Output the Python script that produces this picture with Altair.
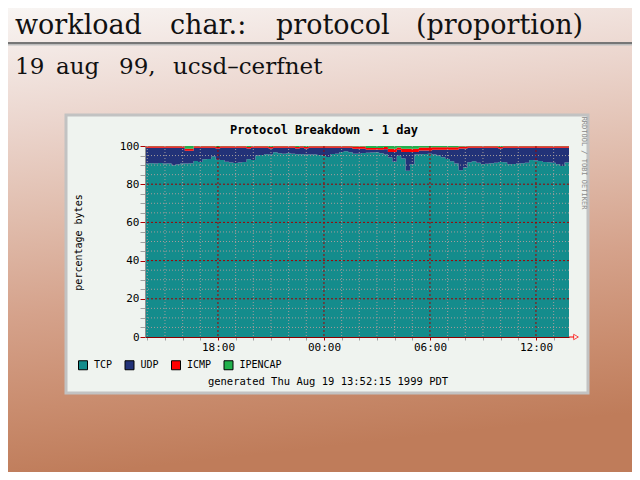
import altair as alt
import pandas as pd

# ---------------- data ----------------
protocols = ["TCP", "UDP", "ICMP", "IPENCAP"]
proto_colors = ["#148c8c", "#223278", "#ff0000", "#22b14c"]

# sample times: hours since 00:00 on 18 Aug 1999 (15 minute steps, 13:52 -> 13:52)
hours = [13.87 + 0.25 * i for i in range(97)]

tcp = [90.9, 91.0, 90.8, 91.1, 90.9, 90.9, 89.9, 90.3, 90.9, 90.9,
       91.0, 92.1, 91.6, 93.0, 93.2, 94.5, 92.8, 92.7, 91.8, 91.4,
       91.1, 91.3, 91.6, 93.0, 92.7, 95.0, 95.3, 95.7, 95.6, 96.7,
       96.2, 95.9, 96.2, 96.0, 95.7, 95.7, 95.6, 95.5, 95.5, 95.3,
       94.8, 94.3, 95.8, 95.9, 96.8, 97.2, 96.7, 96.0, 95.9, 96.3,
       96.5, 96.6, 96.7, 96.2, 95.6, 94.0, 91.8, 94.9, 93.4, 87.0,
       90.5, 95.5, 95.7, 95.8, 95.9, 95.6, 95.0, 94.1, 93.2, 92.0,
       90.9, 87.3, 88.8, 91.5, 92.0, 91.2, 90.6, 90.7, 91.0, 91.2,
       91.6, 91.5, 90.5, 90.6, 90.8, 91.0, 91.2, 92.7, 92.4, 92.2,
       91.6, 91.5, 91.2, 90.5, 89.5, 91.4, 91.4]

udp = [8.2, 8.1, 8.3, 8.0, 8.2, 8.2, 9.2, 8.8, 8.2, 6.6,
       6.5, 7.0, 7.5, 6.1, 5.9, 4.6, 5.9, 6.4, 7.3, 7.7,
       8.0, 7.8, 7.5, 5.7, 6.4, 4.1, 3.8, 3.4, 3.1, 2.4,
       2.9, 3.2, 2.9, 3.1, 3.0, 3.4, 3.1, 3.6, 3.6, 3.8,
       4.3, 4.8, 3.3, 3.2, 2.3, 1.9, 2.4, 2.5, 2.6, 2.2,
       1.5, 1.4, 1.3, 1.8, 2.7, 2.8, 5.0, 3.1, 3.4, 9.8,
       6.3, 1.3, 1.9, 1.8, 1.7, 2.5, 3.1, 4.0, 4.9, 6.1,
       7.2, 11.4, 9.9, 7.6, 7.1, 7.9, 8.5, 8.4, 8.1, 7.9,
       7.1, 7.6, 8.6, 8.5, 8.3, 8.1, 7.9, 6.4, 6.7, 6.9,
       7.5, 7.6, 7.9, 8.6, 9.6, 7.7, 7.7]

icmp = [0.8, 0.8, 0.8, 0.8, 0.8, 0.8, 0.8, 0.8, 0.8, 1.0,
        1.0, 0.8, 0.8, 0.8, 0.8, 0.8, 0.8, 0.8, 0.8, 0.8,
        0.8, 0.8, 0.8, 0.8, 0.8, 0.8, 0.8, 0.8, 0.8, 0.8,
        0.8, 0.8, 0.8, 0.8, 0.8, 0.8, 0.8, 0.8, 0.8, 0.8,
        0.8, 0.8, 0.8, 0.8, 0.8, 0.8, 0.8, 1.2, 1.2, 1.2,
        1.0, 1.0, 1.0, 1.0, 1.2, 1.7, 1.7, 1.2, 1.8, 1.8,
        1.8, 1.8, 1.6, 1.6, 1.6, 1.3, 1.3, 1.3, 1.3, 1.3,
        1.3, 1.0, 1.0, 0.8, 0.8, 0.8, 0.8, 0.8, 0.8, 0.8,
        0.8, 0.8, 0.8, 0.8, 0.8, 0.8, 0.8, 0.8, 0.8, 0.8,
        0.8, 0.8, 0.8, 0.8, 0.8, 0.8, 0.8]

ipencap = [0.1, 0.1, 0.1, 0.1, 0.1, 0.1, 0.1, 0.1, 0.1, 1.5,
           1.5, 0.1, 0.1, 0.1, 0.1, 0.1, 0.5, 0.1, 0.1, 0.1,
           0.1, 0.1, 0.1, 0.5, 0.1, 0.1, 0.1, 0.1, 0.5, 0.1,
           0.1, 0.1, 0.1, 0.1, 0.5, 0.1, 0.5, 0.1, 0.1, 0.1,
           0.1, 0.1, 0.1, 0.1, 0.1, 0.1, 0.1, 0.3, 0.3, 0.3,
           1.0, 1.0, 1.0, 1.0, 0.5, 1.5, 1.5, 0.8, 1.4, 1.4,
           1.4, 1.4, 0.8, 0.8, 0.8, 0.6, 0.6, 0.6, 0.6, 0.6,
           0.6, 0.3, 0.3, 0.1, 0.1, 0.1, 0.1, 0.1, 0.1, 0.1,
           0.5, 0.1, 0.1, 0.1, 0.1, 0.1, 0.1, 0.1, 0.1, 0.1,
           0.1, 0.1, 0.1, 0.1, 0.1, 0.1, 0.1]

x_ticks = list(range(14, 38))          # one tick per hour
y_ticks = list(range(0, 101, 5))       # one tick per 5 %
x_major = [18, 24, 30, 36]
x_minor = [h for h in x_ticks if h not in x_major]
y_major = [20, 40, 60, 80]
y_minor = [v for v in y_ticks if v % 20 != 0 and v < 100]

slide_title_words = ["workload", "char.:", "protocol", "(proportion)"]
slide_sub_words = ["19", "aug", "99,", "ucsd\u2013cerfnet"]
graph_title = "Protocol Breakdown - 1 day"
y_title = "percentage bytes"
generated = "generated Thu Aug 19 13:52:15 1999 PDT"
watermark = "RRDTOOL / TOBI OETIKER"

# ---------------- long table ----------------
rows = []
for i, h in enumerate(hours):
    for k, (p, series) in enumerate(zip(protocols, [tcp, udp, icmp, ipencap])):
        rows.append({"h": h, "proto": p, "k": k, "v": series[i]})
df = pd.DataFrame(rows)

W, H = 424, 191
XDOM = [13.87, 37.87]
xs = alt.Scale(domain=XDOM, nice=False, zero=False)
ys = alt.Scale(domain=[0, 100], nice=False)
MONO = "DejaVu Sans Mono"
SERIF = "DejaVu Serif"

x_axis = alt.Axis(
    values=x_ticks, title=None, grid=False, zindex=2,
    labelExpr="datum.value % 6 === 0 ? ((datum.value % 24 < 10 ? '0' : '') + (datum.value % 24) + ':00') : ''",
    labelFont=MONO, labelFontSize=11, labelColor="#000000", labelPadding=1,
    tickSize=3, tickColor=alt.condition("datum.value % 6 === 0", alt.value("#b00000"), alt.value("#a0a0a0")),
    domainColor="#8b0000", labelFlush=False, labelOverlap=False)
y_axis = alt.Axis(
    values=y_ticks, title=y_title, grid=False, zindex=2,
    labelExpr="datum.value % 20 === 0 ? datum.label : ''",
    labelFont=MONO, labelFontSize=11, labelColor="#000000", labelPadding=1,
    tickSize=5, tickColor=alt.condition("datum.value % 20 === 0", alt.value("#b00000"), alt.value("#a0a0a0")),
    domainColor="#909090", labelOverlap=False,
    titleFont=MONO, titleFontSize=10, titleFontWeight="normal", titleColor="#000000",
    titleX=-62, titleY=96, titleAngle=270)


def one(text=""):
    return pd.DataFrame({"t": [text]})


# background gradient (whole slide)
bg = alt.Chart(one()).mark_rect(
    fill=alt.Gradient(
        gradient="linear", x1=0, x2=0.15, y1=0, y2=1,
        stops=[
            alt.GradientStop(offset=0.0, color="#f8f5f3"),
            alt.GradientStop(offset=0.1, color="#f3e8e4"),
            alt.GradientStop(offset=0.25, color="#ebd5cd"),
            alt.GradientStop(offset=0.45, color="#e0bcac"),
            alt.GradientStop(offset=0.65, color="#d5a28b"),
            alt.GradientStop(offset=0.85, color="#c98c6e"),
            alt.GradientStop(offset=1.0, color="#bf7c5a"),
        ],
    )
).encode(x=alt.value(-137), x2=alt.value(487), y=alt.value(-138), y2=alt.value(326))

rule_dark = alt.Chart(one()).mark_rect(color="#767676").encode(
    x=alt.value(-137), x2=alt.value(487), y=alt.value(-104), y2=alt.value(-102))
rule_light = alt.Chart(one()).mark_rect(color="#bdbdbd").encode(
    x=alt.value(-137), x2=alt.value(487), y=alt.value(-102), y2=alt.value(-100.5))

title_x = [-130, 25, 131, 271]
title_layers = [
    alt.Chart(one(w)).mark_text(font=SERIF, fontSize=27, align="left", baseline="alphabetic",
                                color="#111111").encode(text="t:N", x=alt.value(x), y=alt.value(-112))
    for w, x in zip(slide_title_words, title_x)
]
sub_x = [-130, -89, -26, 28]
sub_layers = [
    alt.Chart(one(w)).mark_text(font=SERIF, fontSize=23, align="left", baseline="alphabetic",
                                color="#111111").encode(text="t:N", x=alt.value(x), y=alt.value(-72))
    for w, x in zip(slide_sub_words, sub_x)
]

panel = alt.Chart(one()).mark_rect(fill="#eff3ef", stroke="#c2c2c2", strokeWidth=3).encode(
    x=alt.value(-79), x2=alt.value(443), y=alt.value(-31), y2=alt.value(247))

gtitle = alt.Chart(one(graph_title)).mark_text(font=MONO, fontSize=12, fontWeight="bold",
                                               color="#000000").encode(
    text="t:N", x=alt.value(179), y=alt.value(-16))

gen = alt.Chart(one(generated)).mark_text(font=MONO, fontSize=10.5, color="#000000").encode(
    text="t:N", x=alt.value(183), y=alt.value(236))

wm = alt.Chart(one(watermark)).mark_text(font=MONO, fontSize=7, angle=90, color="#8a8a8a").encode(
    text="t:N", x=alt.value(439), y=alt.value(17))

area = alt.Chart(df).mark_area(interpolate="step-after", opacity=1).encode(
    x=alt.X("h:Q", scale=xs, axis=x_axis),
    y=alt.Y("v:Q", stack="zero", scale=ys, axis=y_axis),
    color=alt.Color("proto:N", scale=alt.Scale(domain=protocols, range=proto_colors),
                    legend=alt.Legend(orient="none", legendX=-67, legendY=214, direction="horizontal",
                                      title=None, symbolType="square", symbolSize=81,
                                      symbolStrokeColor="#000000", symbolStrokeWidth=1, symbolOpacity=1,
                                      labelFont=MONO, labelFontSize=10, labelColor="#000000",
                                      labelOffset=6, columnPadding=9.5, padding=0, zindex=2)),
    order=alt.Order("k:Q"),
)

vminor = alt.Chart(pd.DataFrame({"h": x_minor})).mark_rule(
    color="#a49c9c", strokeDash=[1, 2], strokeWidth=1).encode(x=alt.X("h:Q", scale=xs, axis=x_axis))
hminor = alt.Chart(pd.DataFrame({"v": y_minor})).mark_rule(
    color="#a49c9c", strokeDash=[1, 2], strokeWidth=1).encode(y=alt.Y("v:Q", scale=ys, axis=y_axis))
vmajor = alt.Chart(pd.DataFrame({"h": x_major})).mark_rule(
    color="#a00000", strokeDash=[2, 2], strokeWidth=1).encode(x=alt.X("h:Q", scale=xs, axis=x_axis))
hmajor = alt.Chart(pd.DataFrame({"v": y_major})).mark_rule(
    color="#a00000", strokeDash=[2, 2], strokeWidth=1).encode(y=alt.Y("v:Q", scale=ys, axis=y_axis))

arrow_line = alt.Chart(one()).mark_rule(color="#ff0000").encode(
    x=alt.value(424), x2=alt.value(429), y=alt.value(191))
arrow = alt.Chart(one()).mark_point(shape="triangle-right", filled=False, color="#ff0000",
                                    size=30, strokeWidth=1).encode(x=alt.value(431), y=alt.value(191))

chart = alt.layer(
    bg, rule_dark, rule_light, *title_layers, *sub_layers, panel, gtitle, gen, wm,
    area, vminor, hminor, vmajor, hmajor, arrow_line, arrow
).properties(width=W, height=H, padding=0, background="#ffffff").configure_view(stroke=None)

chart.save("out.html", embed_options={"renderer": "svg", "actions": False})
